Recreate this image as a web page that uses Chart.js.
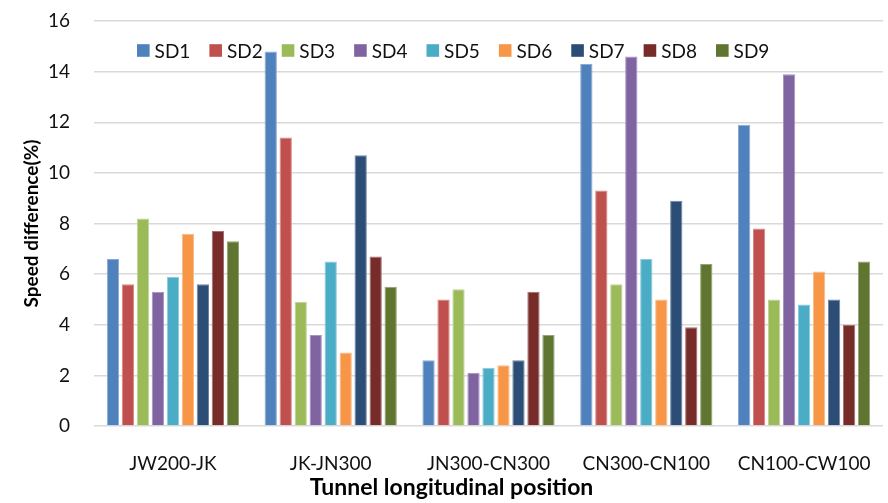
<!DOCTYPE html>
<html>
<head>
<meta charset="utf-8">
<script src="https://cdn.jsdelivr.net/npm/chart.js@4/dist/chart.umd.min.js"></script>
<style>
  html, body { margin: 0; padding: 0; background: #fff; }
  #wrap { width: 888px; height: 503px; position: relative; }
</style>
</head>
<body>
<div id="wrap"><canvas id="c"></canvas></div>
<script>
// Tunnel sections along the longitudinal axis
const positions = ['JW200-JK', 'JK-JN300', 'JN300-CN300', 'CN300-CN100', 'CN100-CW100'];

// Speed difference (%) of each series at each section
const SD1 = [6.6, 14.8, 2.6, 14.3, 11.9];
const SD2 = [5.6, 11.4, 5.0, 9.3, 7.8];
const SD3 = [8.2, 4.9, 5.4, 5.6, 5.0];
const SD4 = [5.3, 3.6, 2.1, 14.6, 13.9];
const SD5 = [5.9, 6.5, 2.3, 6.6, 4.8];
const SD6 = [7.6, 2.9, 2.4, 5.0, 6.1];
const SD7 = [5.6, 10.7, 2.6, 8.9, 5.0];
const SD8 = [7.7, 6.7, 5.3, 3.9, 4.0];
const SD9 = [7.3, 5.5, 3.6, 6.4, 6.5];

const seriesNames = ['SD1', 'SD2', 'SD3', 'SD4', 'SD5', 'SD6', 'SD7', 'SD8', 'SD9'];
const seriesValues = [SD1, SD2, SD3, SD4, SD5, SD6, SD7, SD8, SD9];
const yTicks = [0, 2, 4, 6, 8, 10, 12, 14, 16];

const fills = ['#4F81BD', '#C0504D', '#9BBB59', '#8064A2', '#4BACC6', '#F79646', '#2C4D75', '#772C2A', '#5F7530'];
const edges = ['#8BA9D4', '#D98886', '#C0D59A', '#A893C0', '#8ACCDD', '#FABB8A', '#6F86A6', '#A86E6C', '#93A477'];

const FONT = 'Lato, "Open Sans", "DejaVu Sans", sans-serif';

// Legend row drawn inside the plot, just below the top gridline
const insideLegend = {
  id: 'insideLegend',
  afterDatasetsDraw(chart) {
    const ctx = chart.ctx;
    const area = chart.chartArea;
    ctx.save();
    ctx.font = '19px ' + FONT;
    ctx.textBaseline = 'middle';
    ctx.textAlign = 'left';
    const box = 12.6, gap = 5, spacing = 19;
    let x = area.left + 43;
    const y = area.top + 29.5;
    chart.data.datasets.forEach((ds) => {
      ctx.fillStyle = ds.backgroundColor;
      ctx.fillRect(x, y - box / 2, box, box);
      x += box + gap;
      ctx.fillStyle = '#111';
      ctx.fillText(ds.label, x, y + 1);
      x += ctx.measureText(ds.label).width + spacing;
    });
    ctx.restore();
  }
};

new Chart(document.getElementById('c'), {
  type: 'bar',
  data: {
    labels: positions,
    datasets: seriesNames.map((name, i) => ({
      label: name,
      data: seriesValues[i],
      backgroundColor: fills[i],
      borderColor: edges[i],
      borderWidth: 1,
      categoryPercentage: 0.855,
      barPercentage: 0.82
    }))
  },
  options: {
    responsive: true,
    maintainAspectRatio: false,
    animation: false,
    layout: { padding: { top: 21, right: 5, bottom: 1.4, left: 20 } },
    plugins: {
      legend: { display: false },
      tooltip: { enabled: false },
      title: {
        display: true,
        position: 'bottom',
        text: 'Tunnel longitudinal position',
        color: '#000',
        font: { family: FONT, size: 23, weight: 'bold' },
        padding: { top: 4, bottom: 0 }
      }
    },
    scales: {
      x: {
        grid: { display: false, drawTicks: false },
        border: { display: false },
        ticks: {
          color: '#111',
          font: { family: FONT, size: 19 },
          padding: 26,
          maxRotation: 0
        },
        afterFit(scale) {
          scale.height = 44;
          scale.paddingLeft = 0;
          scale.paddingRight = 0;
        }
      },
      y: {
        min: 0,
        max: 16,
        afterBuildTicks(scale) { scale.ticks = yTicks.map(v => ({ value: v })); },
        grid: { color: '#d9d9d9', lineWidth: 1.5, drawTicks: false },
        border: { display: false },
        ticks: {
          color: '#111',
          font: { family: FONT, size: 19 },
          padding: 24
        },
        title: {
          display: true,
          text: 'Speed difference(%)',
          color: '#000',
          font: { family: FONT, size: 19, weight: 'bold' },
          padding: { top: 0, bottom: 0 }
        },
        afterFit(scale) {
          scale.width = 74;
          scale.paddingTop = 21;
          scale.paddingBottom = 11.4;
        }
      }
    }
  },
  plugins: [insideLegend]
});
</script>
</body>
</html>
